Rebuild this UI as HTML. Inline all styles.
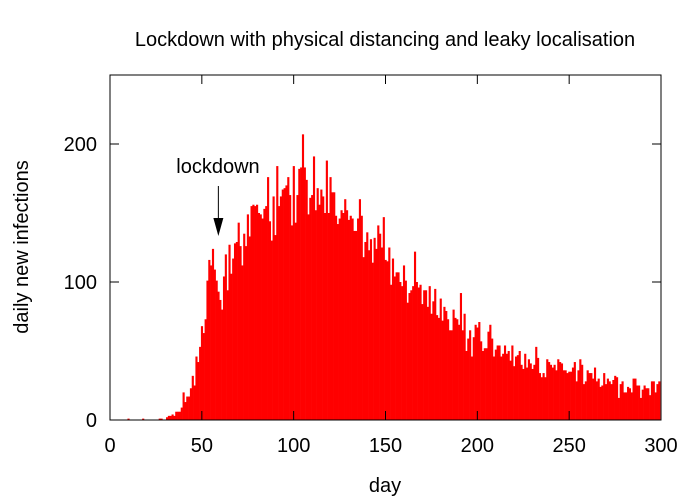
<!DOCTYPE html>
<html><head><meta charset="utf-8"><style>
body{margin:0;background:#fff;}
svg{display:block;font-family:"Liberation Sans","DejaVu Sans",sans-serif;}
</style></head><body>
<svg id="chart" width="700" height="500" viewBox="0 0 700 500">
<text x="385" y="46" font-size="20" text-anchor="middle">Lockdown with physical distancing and leaky localisation</text>
<g id="bars"></g>
<rect x="110" y="75" width="551" height="345" fill="none" stroke="#000" stroke-width="1"/>
<g id="axes"></g>
<text transform="translate(28,247) rotate(-90)" font-size="20" text-anchor="middle">daily new infections</text>
<text x="385" y="492" font-size="20" text-anchor="middle">day</text>
<g id="annot"></g>
</svg>
<script>
const days0 = [0,0,0,0,0,0,0,0,0,0,1,0,0,0,0,0,0,0,1,0,0,0,0,0,0,0,0,1,1,0,0,2,3,3,4,3,6,6,6,9,20,13,17,17,23,32,25,46,42,53,68,63,73,101,116,112,124,109,101,93,87,80,104,120,94,127,106,117,128,129,143,126,112,135,126,149,133,155,156,155,156,150,149,146,153,155,176,144,130,162,134,184,155,162,167,168,170,176,163,141,184,143,163,182,183,207,183,174,149,161,163,191,152,168,156,167,162,150,188,150,176,165,165,148,142,146,152,150,160,152,145,148,146,137,137,146,160,148,118,129,136,123,131,114,132,124,141,135,125,147,116,115,125,98,117,104,107,107,100,97,112,101,85,92,94,97,122,100,96,98,84,94,94,82,97,77,86,95,76,74,88,72,82,79,73,65,65,80,74,73,69,92,65,77,50,59,65,46,60,69,67,71,57,50,52,52,64,69,59,46,51,54,54,46,48,54,48,50,43,54,39,46,47,50,40,37,48,38,44,41,37,40,53,45,34,31,34,31,44,42,40,38,40,36,44,42,41,36,36,34,35,35,38,42,28,36,44,40,26,28,36,34,34,30,38,28,30,24,25,34,26,30,28,26,29,32,31,16,26,28,20,20,24,23,20,30,30,25,25,16,22,25,23,23,18,28,28,20,26,28];
const yTicks = [0,100,200];
const xTicks = [0,50,100,150,200,250,300];
const X0=110,X1=661,Y0=420,Y1=75,XMAX=300,YMAX=250;
const sx=d=>X0+(d/XMAX)*(X1-X0);
const sy=v=>Y0-(v/YMAX)*(Y0-Y1);
const NS="http://www.w3.org/2000/svg";
const bars=document.getElementById('bars');
days0.forEach((v,d)=>{
  if(v<=0) return;
  const r=document.createElementNS(NS,'rect');
  const xa=Math.max(X0,sx(d-0.5)), xb=Math.min(X1,sx(d+0.5));
  r.setAttribute('x',xa);r.setAttribute('width',xb-xa+0.3);
  r.setAttribute('y',sy(v));r.setAttribute('height',Y0-sy(v));
  r.setAttribute('fill','#ff0000');
  
  
  bars.appendChild(r);
});
const axes=document.getElementById('axes');
function line(x1,y1,x2,y2){const l=document.createElementNS(NS,'line');l.setAttribute('x1',x1);l.setAttribute('y1',y1);l.setAttribute('x2',x2);l.setAttribute('y2',y2);l.setAttribute('stroke','#000');return l;}
yTicks.forEach(t=>{
  const y=sy(t);
  const a=line(X0,y,X0+9,y);
  
  
  axes.appendChild(a);
  const b=line(X1-9,y,X1,y);
  
  
  axes.appendChild(b);
  const tx=document.createElementNS(NS,'text');
  tx.setAttribute('x',97);tx.setAttribute('y',y+7);tx.setAttribute('font-size','20');tx.setAttribute('text-anchor','end');
  tx.textContent=t;
  
  
  axes.appendChild(tx);
});
xTicks.forEach(t=>{
  const x=sx(t);
  const a=line(x,Y0,x,Y0-9);
  
  
  axes.appendChild(a);
  const b=line(x,Y1,x,Y1+9);
  
  
  axes.appendChild(b);
  const tx=document.createElementNS(NS,'text');
  tx.setAttribute('x',x);tx.setAttribute('y',452);tx.setAttribute('font-size','20');tx.setAttribute('text-anchor','middle');
  tx.textContent=t;
  
  
  axes.appendChild(tx);
});
const annot=document.getElementById('annot');
const lockDay=59;
const ax=sx(lockDay);
const al=line(ax,186,ax,222);


annot.appendChild(al);
const ah=document.createElementNS(NS,'polygon');
ah.setAttribute('points',`${ax-5},218 ${ax+5},218 ${ax},236`);
ah.setAttribute('fill','#000');


annot.appendChild(ah);
const lt=document.createElementNS(NS,'text');
lt.setAttribute('x',218);lt.setAttribute('y',173);lt.setAttribute('font-size','20');lt.setAttribute('text-anchor','middle');
lt.textContent='lockdown';


annot.appendChild(lt);
</script>
</body></html>
